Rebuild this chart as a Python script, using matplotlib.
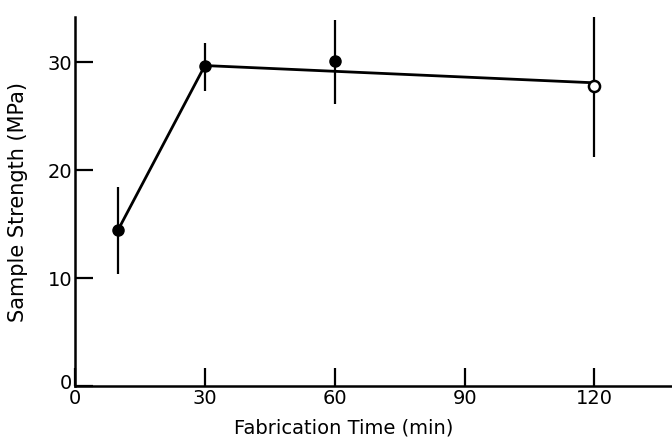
import matplotlib
matplotlib.use('Agg')
import matplotlib.pyplot as plt
from matplotlib.transforms import offset_copy

# fabrication time (min) and sample strength (MPa)
time_filled = [10, 30, 60]
strength_filled = [14.5, 29.7, 30.1]
err_lo_filled = [4.1, 2.4, 4.0]
err_hi_filled = [3.9, 2.1, 3.8]

time_open = [120]
strength_open = [27.8]
err_lo_open = [6.6]
err_hi_open = [6.8]

# trend line drawn through the data
line_time = [10, 30, 120]
line_strength = [14.5, 29.7, 28.1]

plt.rcParams['font.family'] = ['DejaVu Sans']
fig = plt.figure(figsize=(6.72, 4.38), dpi=100)
ax = fig.add_axes([0.1116, 0.1187, 0.889, 0.8425])

ax.plot(line_time, line_strength, 'k-', lw=2.0, zorder=2)
ax.errorbar(time_filled, strength_filled, yerr=[err_lo_filled, err_hi_filled], fmt='o', color='k',
            ms=8, elinewidth=1.6, capsize=0, zorder=3)
ax.errorbar(time_open, strength_open, yerr=[err_lo_open, err_hi_open], fmt='o', color='k', mfc='white',
            mec='k', mew=1.8, ms=8, elinewidth=1.6, capsize=0, zorder=3)

ax.set_xlim(0, 138)
ax.set_ylim(0, 34.2)
ax.set_xticks([0, 30, 60, 90, 120])
ax.set_yticks([0, 10, 20, 30])
ax.spines['top'].set_visible(False)
ax.spines['right'].set_visible(False)
for s in ['left', 'bottom']:
    ax.spines[s].set_linewidth(1.8)
ax.tick_params(direction='in', length=13, width=1.6, labelsize=14, pad=2)
ax.set_xlabel('Fabrication Time (min)', fontsize=14)
ax.set_ylabel('Sample Strength (MPa)', fontsize=15)
ax.xaxis.set_label_coords(0.449, -0.088)
ax.yaxis.set_label_coords(-0.079, 0.5)

fig.canvas.draw()
# lift the y "0" a little so it clears the x "0", as in the original
ylab0 = ax.get_yticklabels()[0]
ylab0.set_transform(offset_copy(ylab0.get_transform(), fig=fig, x=0, y=5, units='dots'))

fig.savefig('out.png', dpi=100)
